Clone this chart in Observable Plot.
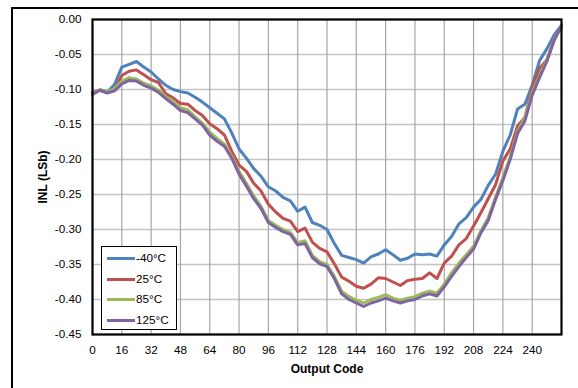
<!DOCTYPE html>
<html><head><meta charset="utf-8">
<script src="https://cdn.jsdelivr.net/npm/d3@7"></script>
<script src="https://cdn.jsdelivr.net/npm/@observablehq/plot@0.6"></script>
<style>
body{margin:0;background:#fff;}
#wrap{position:relative;width:578px;height:388px;overflow:hidden;font-family:"Liberation Sans",Arial,sans-serif;background:#fff;}
#wrap svg{position:absolute;left:0;top:0;}
#outer{position:absolute;left:11px;top:7px;width:700px;height:500px;border-left:2px solid #000;border-top:2px solid #000;}
#legend{position:absolute;left:101px;top:246px;width:74px;height:82px;border:1px solid #000;background:#fff;}
.row{position:absolute;left:0;height:14px;width:74px;}
.sw{position:absolute;left:5px;top:6px;width:28px;height:3px;}
.lb{position:absolute;left:34px;top:0;font-size:11.7px;line-height:14px;color:#000;}
</style>
</head><body>
<div id="wrap"><div id="outer"></div></div>
<script>
const codes = [0,4,8,12,16,20,24,28,32,36,40,44,48,52,56,60,64,68,72,76,80,84,88,92,96,100,104,108,112,116,120,124,128,132,136,140,144,148,152,156,160,164,168,172,176,180,184,188,192,196,200,204,208,212,216,220,224,228,232,236,240,244,248,252,256];
const seriesNames = ["-40°C","25°C","85°C","125°C"];
const seriesColors = ["#4F81BD","#C0504D","#9BBB59","#8064A2"];
const tM40 = [-0.105,-0.101,-0.104,-0.093,-0.068,-0.064,-0.060,-0.068,-0.075,-0.085,-0.094,-0.100,-0.103,-0.105,-0.111,-0.118,-0.126,-0.134,-0.142,-0.162,-0.185,-0.198,-0.213,-0.224,-0.239,-0.245,-0.254,-0.259,-0.274,-0.268,-0.290,-0.294,-0.300,-0.320,-0.337,-0.340,-0.343,-0.348,-0.339,-0.335,-0.329,-0.336,-0.344,-0.341,-0.335,-0.336,-0.335,-0.338,-0.322,-0.310,-0.292,-0.283,-0.268,-0.257,-0.237,-0.221,-0.188,-0.165,-0.128,-0.121,-0.094,-0.059,-0.042,-0.022,-0.008];
const t25 = [-0.105,-0.101,-0.104,-0.101,-0.080,-0.074,-0.072,-0.079,-0.086,-0.090,-0.106,-0.112,-0.120,-0.121,-0.130,-0.137,-0.149,-0.156,-0.165,-0.188,-0.208,-0.217,-0.234,-0.245,-0.264,-0.275,-0.284,-0.288,-0.303,-0.298,-0.318,-0.327,-0.332,-0.349,-0.368,-0.374,-0.381,-0.384,-0.378,-0.369,-0.370,-0.375,-0.380,-0.373,-0.371,-0.370,-0.362,-0.370,-0.348,-0.338,-0.322,-0.313,-0.295,-0.276,-0.256,-0.236,-0.202,-0.185,-0.152,-0.140,-0.098,-0.070,-0.058,-0.028,-0.010];
const t85 = [-0.106,-0.100,-0.103,-0.099,-0.088,-0.083,-0.085,-0.091,-0.095,-0.101,-0.110,-0.117,-0.126,-0.129,-0.139,-0.148,-0.161,-0.170,-0.178,-0.195,-0.217,-0.234,-0.252,-0.267,-0.287,-0.294,-0.300,-0.304,-0.319,-0.316,-0.337,-0.346,-0.350,-0.367,-0.388,-0.396,-0.401,-0.405,-0.400,-0.397,-0.393,-0.398,-0.401,-0.398,-0.396,-0.391,-0.388,-0.391,-0.378,-0.362,-0.348,-0.336,-0.324,-0.302,-0.283,-0.254,-0.226,-0.196,-0.160,-0.140,-0.104,-0.080,-0.058,-0.029,-0.009];
const t125 = [-0.107,-0.101,-0.105,-0.102,-0.092,-0.087,-0.088,-0.094,-0.098,-0.104,-0.113,-0.121,-0.130,-0.133,-0.142,-0.151,-0.165,-0.174,-0.181,-0.198,-0.221,-0.238,-0.256,-0.270,-0.290,-0.297,-0.303,-0.307,-0.322,-0.320,-0.340,-0.349,-0.353,-0.370,-0.392,-0.400,-0.405,-0.410,-0.405,-0.402,-0.398,-0.402,-0.405,-0.402,-0.400,-0.395,-0.392,-0.395,-0.382,-0.367,-0.353,-0.340,-0.328,-0.305,-0.287,-0.257,-0.230,-0.200,-0.163,-0.145,-0.108,-0.083,-0.060,-0.030,-0.009];
const xTicks = [0,16,32,48,64,80,96,112,128,144,160,176,192,208,224,240];
const yTicks = [0,-0.05,-0.10,-0.15,-0.20,-0.25,-0.30,-0.35,-0.40,-0.45];
const xTitle = "Output Code";
const yTitle = "INL (LSb)";

const allSeries = [tM40, t25, t85, t125];
const data = [];
allSeries.forEach((vals, i) => vals.forEach((v, j) => data.push({code: codes[j], v, series: seriesNames[i]})));

const chart = Plot.plot({
  width: 578, height: 388,
  marginLeft: 92, marginTop: 19, marginRight: 17, marginBottom: 54,
  style: {fontFamily: '"Liberation Sans", Arial, sans-serif', fontSize: "11.7px", color: "#000", background: "transparent"},
  x: {domain: [0, 256]},
  y: {domain: [-0.45, 0]},
  color: {domain: seriesNames, range: seriesColors},
  marks: [
    Plot.gridY(yTicks, {stroke: "#c4c4c4", strokeOpacity: 1, strokeWidth: 1.5}),
    Plot.gridX(xTicks, {stroke: "#a6a6a6", strokeOpacity: 1, strokeWidth: 1.2}),
    Plot.axisX(xTicks, {tickSize: 0, tickPadding: 11, label: null, fill: "#000"}),
    Plot.axisY(yTicks, {tickSize: 0, tickPadding: 11, label: null, tickFormat: d => d.toFixed(2), fill: "#000"}),
    Plot.line(data, {x: "code", y: "v", z: "series", stroke: "series", strokeWidth: 3, strokeLinejoin: "round", strokeLinecap: "round"}),
    Plot.frame({stroke: "#000", strokeWidth: 2.2}),
    Plot.text([xTitle], {frameAnchor: "bottom", dy: 38, lineAnchor: "bottom", textAnchor: "middle", fontWeight: "bold", fontSize: 12, fill: "#000"}),
    Plot.text([yTitle], {frameAnchor: "left", dx: -49, rotate: -90, textAnchor: "middle", lineAnchor: "middle", fontWeight: "bold", fontSize: 12, fill: "#000"})
  ]
});
const wrap = document.getElementById("wrap");
wrap.appendChild(chart);

const legend = document.createElement("div");
legend.id = "legend";
const rowTops = [4, 25, 45, 66];
seriesNames.forEach((name, i) => {
  const row = document.createElement("div");
  row.className = "row";
  row.style.top = rowTops[i] + "px";
  const sw = document.createElement("div");
  sw.className = "sw";
  sw.style.background = seriesColors[i];
  const lb = document.createElement("div");
  lb.className = "lb";
  lb.textContent = name;
  row.appendChild(sw); row.appendChild(lb);
  legend.appendChild(row);
});
wrap.appendChild(legend);
</script>
</body></html>
